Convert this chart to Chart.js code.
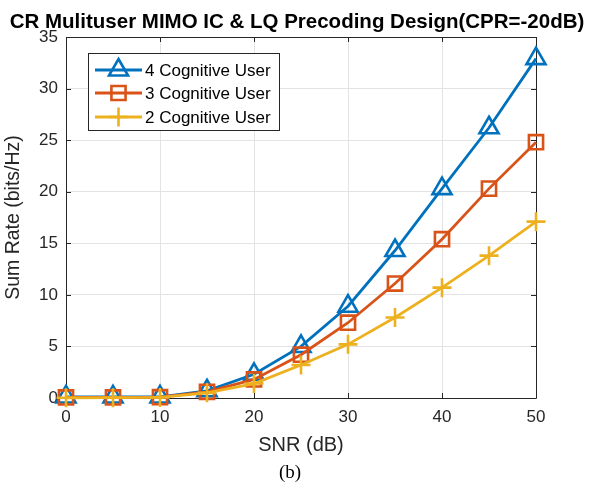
<!DOCTYPE html>
<html>
<head>
<meta charset="utf-8">
<script src="https://cdn.jsdelivr.net/npm/chart.js@4/dist/chart.umd.min.js"></script>
<style>
  html, body { margin: 0; padding: 0; background: #fff; }
  #wrap { position: relative; width: 598px; height: 483px; }
  #caption { position: absolute; left: -9px; width: 598px; top: 461px; text-align: center;
             font-family: "Liberation Serif", "Times New Roman", serif; font-size: 19px; line-height: 22px; color: #000; }
</style>
</head>
<body>
<div id="wrap">
  <canvas id="c" width="598" height="483"></canvas>
  <div id="caption">(b)</div>
</div>
<script>
// ---- data ----
const snr = [0, 5, 10, 15, 20, 25, 30, 35, 40, 45, 50];
const user4 = [0.1, 0.1, 0.1, 0.7, 2.3, 5.0, 8.9, 14.3, 20.3, 26.2, 32.9];
const user3 = [0.05, 0.05, 0.08, 0.6, 1.8, 4.2, 7.3, 11.1, 15.4, 20.3, 24.8];
const user2 = [0.02, 0.03, 0.06, 0.5, 1.4, 3.2, 5.2, 7.8, 10.7, 13.8, 17.1];
const seriesLabels = ['4 Cognitive User', '3 Cognitive User', '2 Cognitive User'];
const xTicks = [0, 10, 20, 30, 40, 50];
const yTicks = [0, 5, 10, 15, 20, 25, 30, 35];
const chartTitle = 'CR Mulituser MIMO IC & LQ Precoding Design(CPR=-20dB)';

const colors = ['#0072BD', '#D95319', '#EDB120'];
const styles = [
  { pointStyle: 'triangle', radius: 11 },
  { pointStyle: 'rect', radius: 10 },
  { pointStyle: 'cross', radius: 9.5 }
];
const axisColor = '#262626';
const font = "'Liberation Sans', Arial, Helvetica, sans-serif";

function pts(arr) { return snr.map((x, i) => ({ x: x, y: arr[i] })); }
const series = [user4, user3, user2];

const datasets = series.map((arr, i) => ({
  label: seriesLabels[i],
  data: pts(arr),
  borderColor: colors[i],
  backgroundColor: 'rgba(0,0,0,0)',
  borderWidth: 2.8,
  pointStyle: styles[i].pointStyle,
  pointRadius: styles[i].radius,
  pointBorderWidth: 2.6,
  pointBorderColor: colors[i],
  pointBackgroundColor: 'rgba(0,0,0,0)',
  tension: 0,
  clip: false,
  order: 2 - i
}));

const framePlugin = {
  id: 'frame',
  beforeDatasetsDraw(chart) {
    const { ctx, chartArea: ca, scales } = chart;
    ctx.save();
    ctx.strokeStyle = axisColor;
    ctx.lineWidth = 1;
    ctx.beginPath();
    ctx.rect(Math.round(ca.left) + 0.5, Math.round(ca.top) + 0.5,
             Math.round(ca.right - ca.left), Math.round(ca.bottom - ca.top));
    ctx.stroke();
    const tl = 5;
    ctx.beginPath();
    xTicks.forEach(v => {
      const x = Math.round(scales.x.getPixelForValue(v)) + 0.5;
      ctx.moveTo(x, ca.bottom); ctx.lineTo(x, ca.bottom - tl);
      ctx.moveTo(x, ca.top); ctx.lineTo(x, ca.top + tl);
    });
    yTicks.forEach(v => {
      const y = Math.round(scales.y.getPixelForValue(v)) + 0.5;
      ctx.moveTo(ca.left, y); ctx.lineTo(ca.left + tl, y);
      ctx.moveTo(ca.right, y); ctx.lineTo(ca.right - tl, y);
    });
    ctx.stroke();
    ctx.restore();
  }
};

const titlePlugin = {
  id: 'centeredTitle',
  afterDraw(chart) {
    const { ctx } = chart;
    ctx.save();
    ctx.fillStyle = '#000';
    ctx.font = 'bold 20.5px ' + font;
    ctx.textAlign = 'center';
    ctx.textBaseline = 'middle';
    ctx.fillText(chartTitle, 297, 22);
    ctx.restore();
  }
};

const legendPlugin = {
  id: 'matlabLegend',
  afterDatasetsDraw(chart) {
    const { ctx, chartArea: ca } = chart;
    const bx = ca.left + 22, by = ca.top + 16, bw = 191, bh = 77;
    ctx.save();
    ctx.fillStyle = '#fff';
    ctx.fillRect(bx, by, bw, bh);
    ctx.strokeStyle = axisColor;
    ctx.lineWidth = 1;
    ctx.strokeRect(Math.round(bx) + 0.5, Math.round(by) + 0.5, bw, bh);
    const rowY = [by + 17, by + 40, by + 64];
    seriesLabels.forEach((lab, i) => {
      const y = rowY[i];
      ctx.strokeStyle = colors[i];
      ctx.lineWidth = 2.8;
      ctx.beginPath();
      ctx.moveTo(bx + 7, y); ctx.lineTo(bx + 54, y);
      ctx.stroke();
      ctx.fillStyle = 'rgba(0,0,0,0)';
      ctx.lineWidth = 2.6;
      Chart.helpers.drawPoint(ctx, { pointStyle: styles[i].pointStyle, radius: styles[i].radius, rotation: 0, borderWidth: 2.6 }, bx + 30.5, y);
      ctx.fillStyle = '#000';
      ctx.font = '17px ' + font;
      ctx.textBaseline = 'middle';
      ctx.textAlign = 'left';
      ctx.fillText(lab, bx + 57, y + 1);
    });
    ctx.restore();
  }
};

new Chart(document.getElementById('c'), {
  type: 'line',
  data: { datasets: datasets },
  options: {
    responsive: false,
    animation: false,
    events: [],
    layout: { padding: { left: 0, right: 62, top: 37, bottom: 22 } },
    plugins: {
      legend: { display: false },
      tooltip: { enabled: false },
      title: { display: false }
    },
    scales: {
      x: {
        type: 'linear',
        min: 0, max: 50,
        afterFit(s) { s.height = 63; },
        afterBuildTicks(s) { s.ticks = xTicks.map(v => ({ value: v })); },
        grid: { color: '#e3e3e3', lineWidth: 1, drawTicks: false },
        border: { display: false },
        ticks: { color: axisColor, padding: 9, font: { family: font, size: 17 }, maxRotation: 0 },
        title: { display: true, text: 'SNR (dB)', color: axisColor,
                 font: { family: font, size: 20 }, padding: { top: 0, bottom: 4 } }
      },
      y: {
        type: 'linear',
        min: 0, max: 35,
        afterFit(s) { s.width = 66; },
        afterBuildTicks(s) { s.ticks = yTicks.map(v => ({ value: v })); },
        grid: { color: '#e3e3e3', lineWidth: 1, drawTicks: false },
        border: { display: false },
        ticks: { color: axisColor, padding: 8, font: { family: font, size: 17 } },
        title: { display: true, text: 'Sum Rate (bits/Hz)', color: axisColor,
                 font: { family: font, size: 19.5 }, padding: { top: 2, bottom: 0 } }
      }
    }
  },
  plugins: [framePlugin, legendPlugin, titlePlugin]
});
</script>
</body>
</html>
